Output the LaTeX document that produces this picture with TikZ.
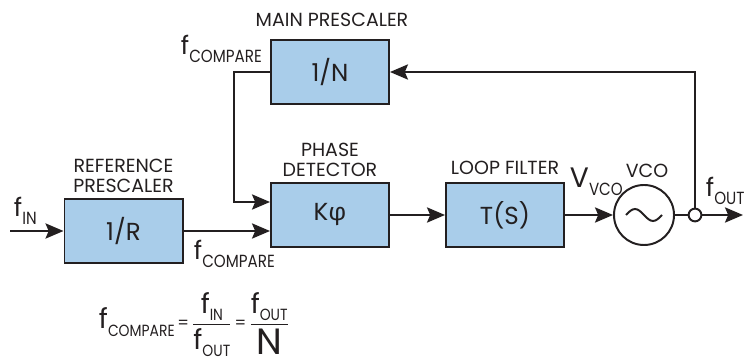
\documentclass[tikz,border=0pt]{standalone}
\usepackage{amsmath}
\usepackage{fontspec}
\setmainfont{Poppins}
\newfontfamily\subfont{Poppins}[FakeStretch=0.86]
\newfontfamily\grkfont{Fira Sans}
\usepackage{tikz}
\usetikzlibrary{positioning, arrows.meta}
\definecolor{boxblue}{HTML}{A9CDEA}
\definecolor{inkblack}{HTML}{231F20}
\newcommand{\sig}[3][18]{{\fontsize{#1}{#1}\selectfont #2}\raisebox{-5pt}{\subfont #3}}

\begin{document}
\begin{tikzpicture}[x=0.025cm, y=-0.025cm, color=inkblack, line width=1.4pt,
    font=\fontsize{13.5}{14.5}\selectfont,
    blk/.style={draw, fill=boxblue, minimum width=2.95cm, minimum height=1.6cm, font=\fontsize{17.5}{17.5}\selectfont},
    lbl/.style={align=center, inner sep=0pt},
    siglbl/.style={lbl, anchor=base west, font=\fontsize{12.5}{12.5}\selectfont},
    osc/.style={draw, circle, minimum size=1.5cm, fill=white},
    junc/.style={draw, circle, minimum size=0.32cm, inner sep=0pt, fill=white},
    arr/.style={-{Stealth[length=4.5mm, width=3.8mm, inset=0.8mm]}}]

  \useasboundingbox (0,0) rectangle (744,359);

  \node[blk] (main) at (330,72) {1/N};
  \node[blk] (phase) at (330,215) {K{\grkfont φ}};
  \node[blk] (ref) at (123.5,231) {1/R};
  \node[blk] (loop) at (505,215) {T(S)};
  \node[osc] (vco) at (644,215) {};
  \node[junc] (tap) at (695,215) {};
  \coordinate (fin) at (10,231);
  \coordinate (fout) at (743,215);
  \coordinate (fb) at (234,202);

  \draw (vco.center) ++(-18,0) sin ++(9,-6) cos ++(9,6) sin ++(9,6) cos ++(9,-6);

  \node[lbl] (mainlbl) at (332,20) {MAIN PRESCALER};
  \node[lbl] (phaselbl) at (330,160) {PHASE\\DETECTOR};
  \node[lbl] (reflbl) at (123.5,176) {REFERENCE\\PRESCALER};
  \node[lbl] (looplbl) at (505,168) {LOOP FILTER};
  \node[lbl] (vcolbl) at (647,171) {VCO};
  \node[siglbl] (vvco) at (569,188) {\sig[20]{V}{VCO}};
  \node[siglbl] (fcmptop) at (180,55) {\sig{f}{COMPARE}};
  \node[siglbl] (fcmpbot) at (193,260) {\sig{f}{COMPARE}};
  \node[siglbl] (finlbl) at (13,217) {\sig{f}{IN}};
  \node[siglbl] (foutlbl) at (705,197) {\sig{f}{OUT}};

  % f_COMPARE relation
  \node[siglbl, font=\fontsize{11.5}{11.5}\selectfont] (formula) at (98,329)
    {\sig[19.5]{f}{COMPARE}\,=\,$\genfrac{}{}{0.8pt}{0}{\mbox{\sig[19.5]{f}{IN}}}{\mbox{\sig[19.5]{f}{OUT}}}$\,=\,$\genfrac{}{}{0.8pt}{0}{\mbox{\sig[19.5]{f}{OUT}}}{\mbox{\fontsize{26}{26}\selectfont N}}$};

  \draw[arr] (fin) -- (ref.west);
  \draw[arr] (ref.east) -- (ref.east -| phase.west);
  \draw[arr] (main.west) -| (fb) -- (fb -| phase.west);
  \draw[arr] (phase) -- (loop);
  \draw[arr] (loop) -- (vco);
  \draw (vco) -- (tap);
  \draw[arr] (tap) -- (fout);
  \draw[arr] (tap) |- (main);
\end{tikzpicture}
\end{document}
